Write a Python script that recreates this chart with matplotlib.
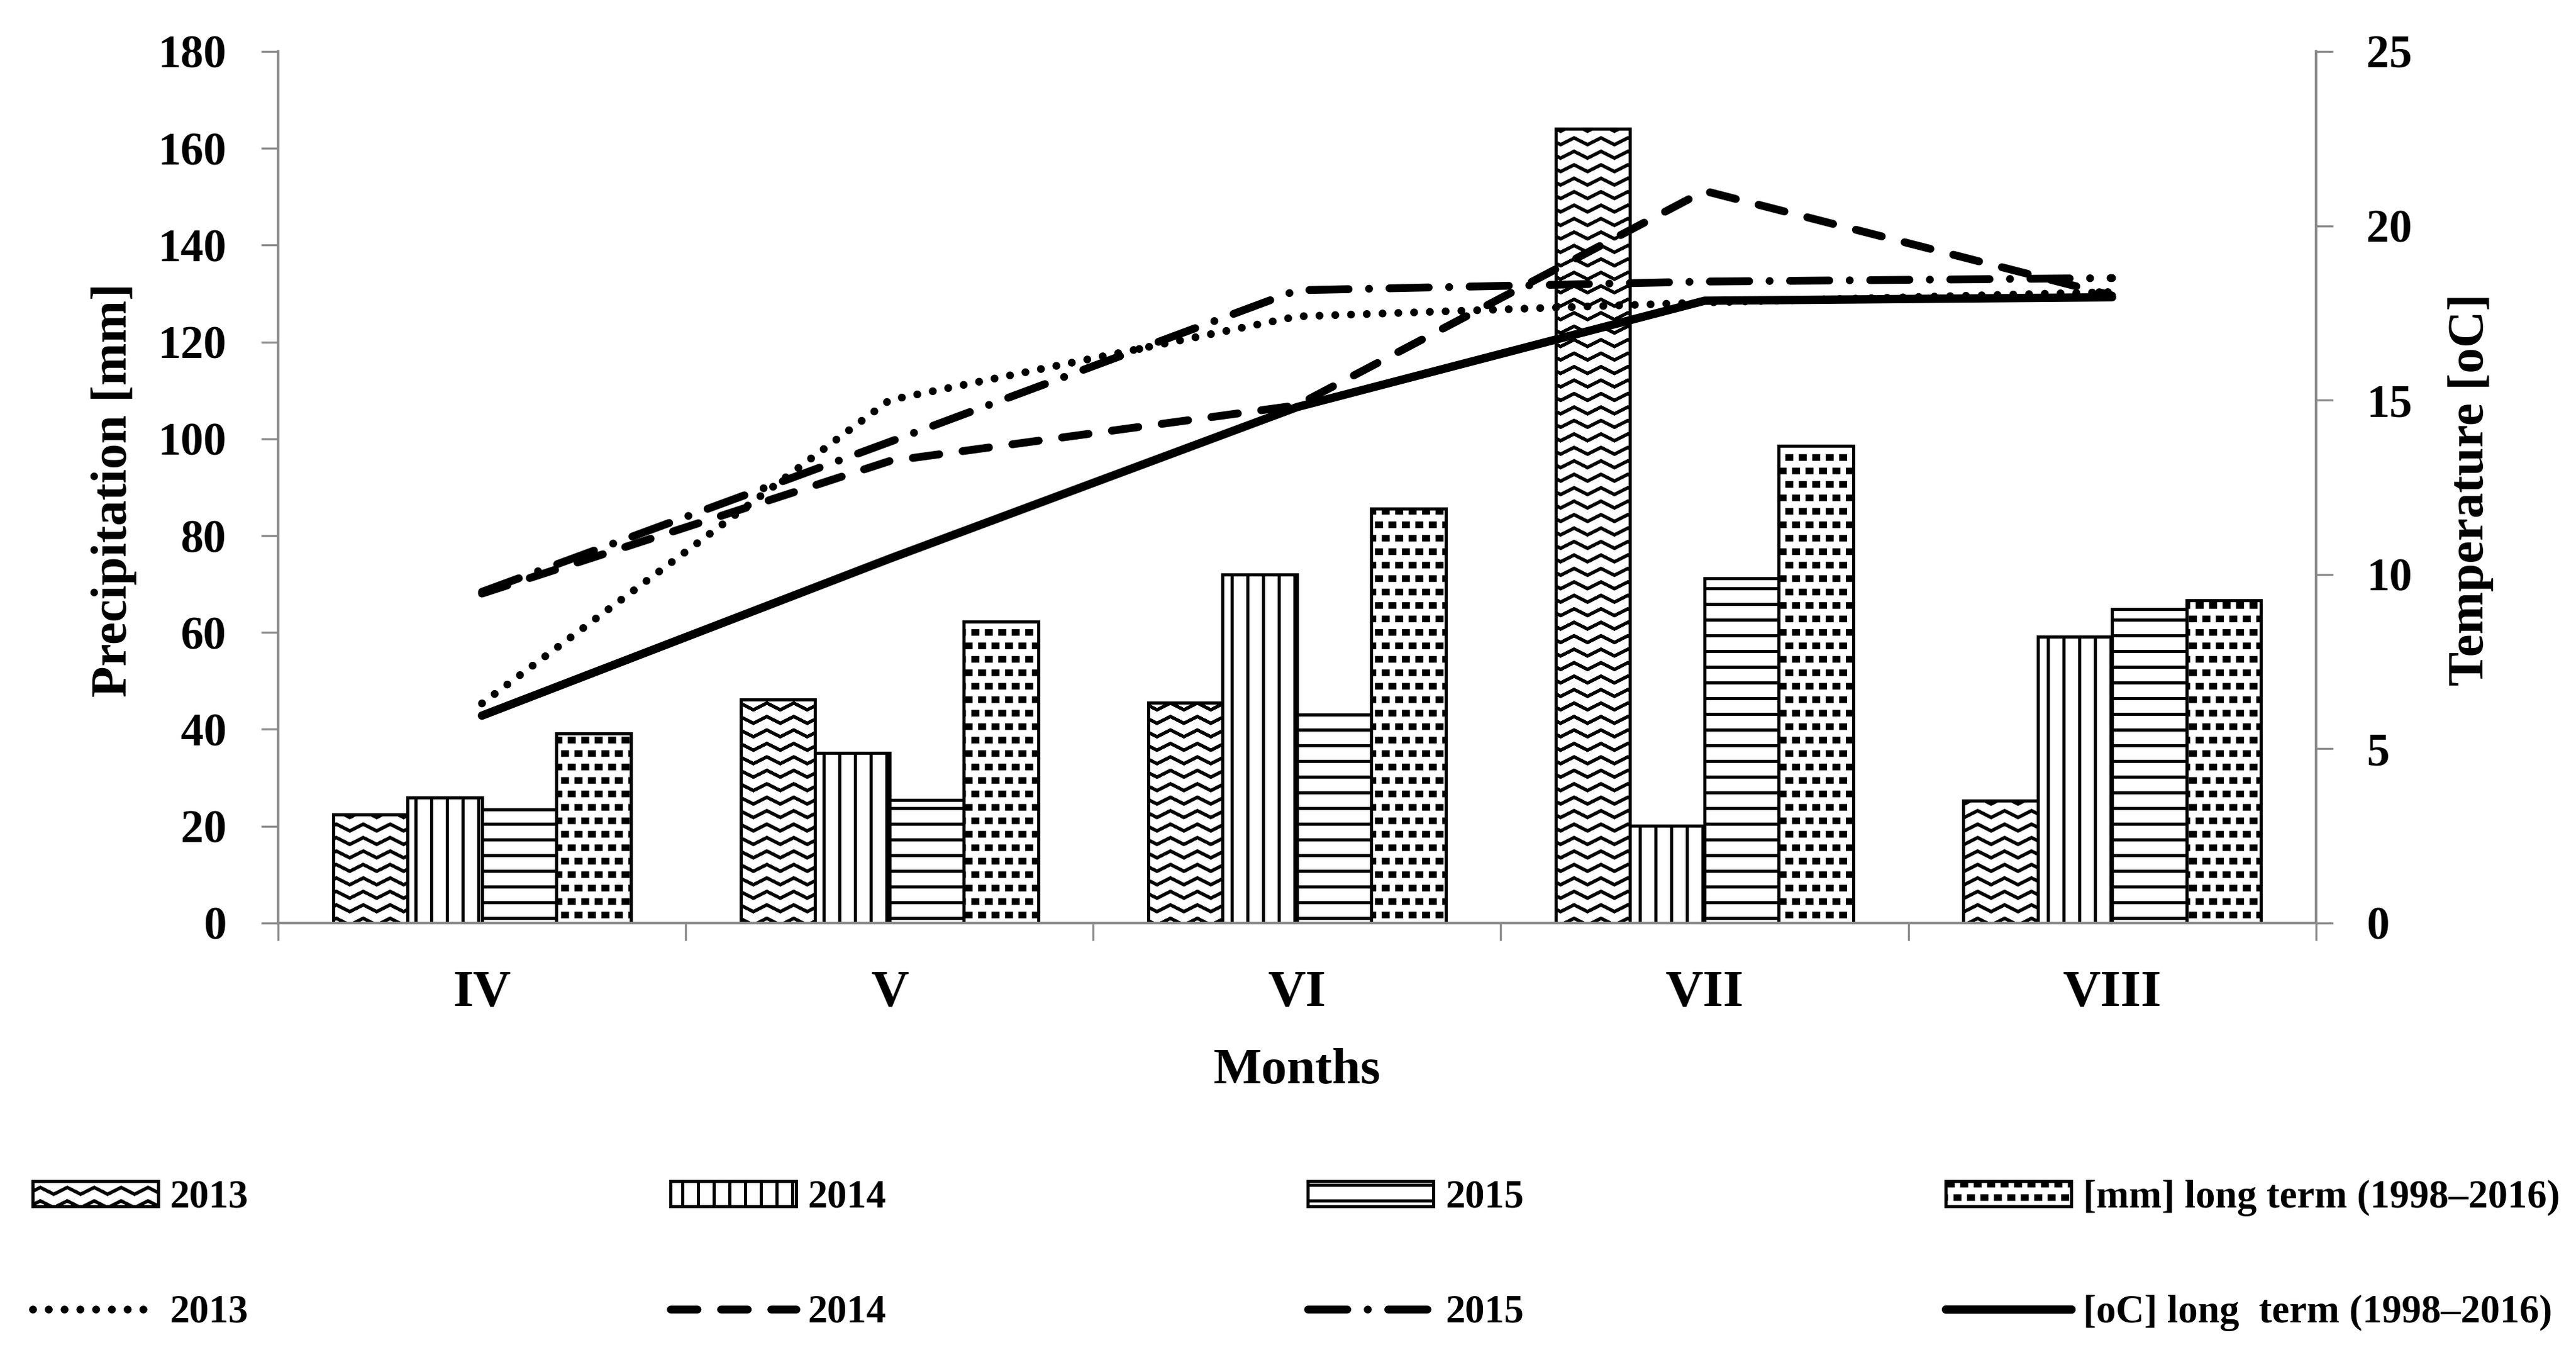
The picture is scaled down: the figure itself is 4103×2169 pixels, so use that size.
import warnings
import numpy as np
import matplotlib
matplotlib.use('Agg')
import matplotlib.pyplot as plt
from matplotlib import hatch as mhatch
from matplotlib.path import Path

warnings.filterwarnings('ignore')

# data
months = ['IV', 'V', 'VI', 'VII', 'VIII']

prec_2013 = [22.4, 46.2, 45.5, 164.0, 25.3]
prec_2014 = [25.9, 35.1, 72.0, 20.1, 59.1]
prec_2015 = [23.5, 25.4, 43.0, 71.2, 64.8]
prec_lt = [39.2, 62.2, 85.6, 98.5, 66.6]

temp_2013 = [6.3, 15.0, 17.4, 17.8, 18.1]
temp_2014 = [9.45, 13.25, 14.85, 21.0, 18.0]
temp_2015 = [9.5, 13.8, 18.15, 18.4, 18.5]
temp_lt = [5.95, 10.45, 14.8, 17.85, 17.95]

bar_labels = ['2013', '2014', '2015', '[mm] long term (1998–2016)']
line_labels = ['2013', '2014', '2015', '[oC] long  term (1998–2016)']


# extra hatch patterns: 'w' = zig-zag waves, 'q' = small staggered squares
class WaveHatch(mhatch.HatchPatternBase):
    def __init__(self, hatch, density):
        self.num_rows = hatch.count('w') * 14
        self.num_waves = 7
        self.num_vertices = self.num_rows * 2 * (2 * self.num_waves + 1)

    def set_vertices_and_codes(self, vertices, codes):
        n = 2 * self.num_waves + 1
        xs = np.linspace(0, 1, n)
        amp = 0.018
        offs = np.where(np.arange(n) % 2 == 0, -amp, amp)
        # go forward and back along the same zig-zag so the fill is empty
        xs2 = np.concatenate([xs, xs[::-1]])
        offs2 = np.concatenate([offs, offs[::-1]])
        rows = (np.arange(self.num_rows) + 0.5) / self.num_rows
        vertices[:, 0] = np.tile(xs2, self.num_rows)
        vertices[:, 1] = (rows[:, None] + offs2[None, :]).ravel()
        codes[:] = Path.LINETO
        codes[::2 * n] = Path.MOVETO


class SquareHatch(mhatch.Shapes):
    size = 1.0
    filled = True

    def __init__(self, hatch, density):
        self.num_rows = hatch.count('q') * 14
        self.shape_vertices = np.array([[-0.18, -0.13], [0.18, -0.13],
                                        [0.18, 0.13], [-0.18, 0.13],
                                        [-0.18, -0.13]])
        self.shape_codes = np.array([Path.MOVETO, Path.LINETO, Path.LINETO,
                                     Path.LINETO, Path.CLOSEPOLY],
                                    dtype=Path.code_type)
        super().__init__(hatch, density)


mhatch._hatch_types.append(WaveHatch)
mhatch._hatch_types.append(SquareHatch)

plt.rcParams['font.family'] = ['Liberation Serif', 'DejaVu Serif']
plt.rcParams['font.weight'] = 'bold'
plt.rcParams['hatch.linewidth'] = 1.2
plt.rcParams['hatch.color'] = 'black'

gray = '#8c8c8c'

fig = plt.figure(figsize=(4103 / 300, 2169 / 300), dpi=300)
ax = fig.add_axes([0.108, 0.3223, 0.791, 0.6399])

x = np.arange(len(months))
w = 0.1825
hatches = ['w', '||', '--', 'q']
series = [prec_2013, prec_2014, prec_2015, prec_lt]
for i, vals in enumerate(series):
    ax.bar(x + (i - 1.5) * w, vals, w, color='white', edgecolor='black',
           linewidth=1.2, hatch=hatches[i], label=bar_labels[i])

ax.set_xlim(-0.5, 4.5)
ax.set_ylim(0, 180)
ax.set_yticks(range(0, 181, 20))
ax.set_xticks(x)
ax.set_xticklabels(months)
ax.set_xticks(np.arange(-0.5, 5, 1), minor=True)

ax2 = ax.twinx()
ax2.set_ylim(0, 25)
ax2.set_yticks(range(0, 26, 5))
ax2.plot(x, temp_2013, color='black', lw=3.0, linestyle=(0, (0.01, 2.0)),
         dash_capstyle='round', label=line_labels[0])
ax2.plot(x, temp_2014, color='black', lw=3.0, linestyle=(0, (3.4, 3.0)),
         dash_capstyle='round', label=line_labels[1])
ax2.plot(x, temp_2015, color='black', lw=3.0, linestyle=(0, (5, 2.6, 0.01, 2.6)),
         dash_capstyle='round', label=line_labels[2])
ax2.plot(x, temp_lt, color='black', lw=3.2, solid_capstyle='round',
         label=line_labels[3])

# spines and ticks
ax.spines['top'].set_visible(False)
ax.spines['right'].set_visible(False)
for s in ['left', 'bottom']:
    ax.spines[s].set_color(gray)
    ax.spines[s].set_linewidth(1.0)
for s in ['top', 'left', 'bottom']:
    ax2.spines[s].set_visible(False)
ax2.spines['right'].set_color(gray)
ax2.spines['right'].set_linewidth(1.0)

ax.tick_params(axis='y', length=6.4, width=0.8, color=gray, pad=13.4,
               labelsize=17.5)
ax.tick_params(axis='x', which='major', length=0, pad=18, labelsize=20)
ax.tick_params(axis='x', which='minor', length=6.7, width=0.8, color=gray)
ax2.tick_params(axis='y', length=6.4, width=0.8, color=gray, pad=13,
                labelsize=17.5)

ax.set_ylabel('Precipitation [mm]', fontsize=19.5, fontweight='bold',
              va='center')
ax.yaxis.set_label_coords(-0.0807, 0.497)
ax2.set_ylabel('Temperature [oC]', fontsize=19.5, fontweight='bold',
               va='center')
ax2.yaxis.set_label_coords(1.076, 0.497)
ax.set_xlabel('Months', fontsize=19.5, fontweight='bold', va='center')
ax.xaxis.set_label_coords(0.5, -0.170)

# legend: bars on the first row, lines on the second
bh, bl = ax.get_legend_handles_labels()
lh, ll = ax2.get_legend_handles_labels()
handles, labels = [], []
for i in range(4):
    handles += [bh[i], lh[i]]
    labels += [bl[i], ll[i]]

fig.legend(handles, labels, ncol=4, mode='expand', loc='center',
           bbox_to_anchor=(0.0127, 0.0782 - 0.06, 0.981, 0.12),
           frameon=False, fontsize=15, handlelength=3.2, handleheight=0.6,
           handletextpad=0.3, labelspacing=2.0, borderpad=0, borderaxespad=0)

fig.savefig('out.png', dpi=300)
